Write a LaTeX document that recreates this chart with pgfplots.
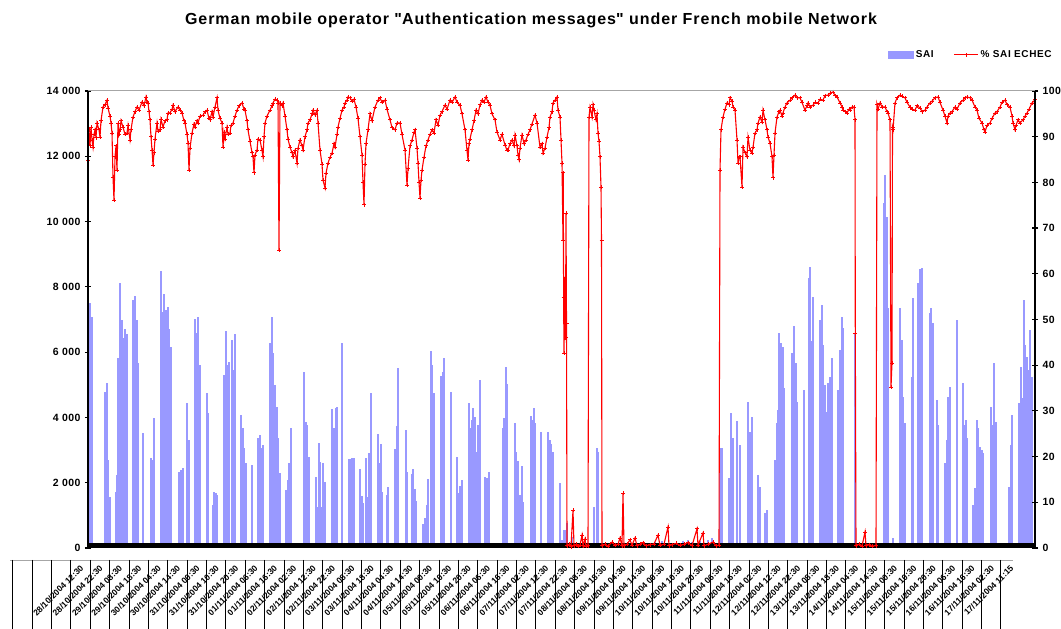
\documentclass[border=0pt]{standalone}
\usepackage{fontspec}
\setmainfont{Liberation Sans}
\usepackage{pgfplots}
\pgfplotsset{compat=1.18}
\definecolor{sai}{RGB}{153,153,255}
\definecolor{ech}{RGB}{255,0,0}
\begin{document}
\begin{tikzpicture}[x=1pt,y=1pt]
\useasboundingbox (0,0) rectangle (1061,629);
\begin{axis}[
  at={(88pt,81pt)}, anchor=south west,
  width=947pt, height=457pt, scale only axis,
  xmin=88, xmax=1035, ymin=0, ymax=14000,
  scaled y ticks=false,
  axis line style={draw=none},
  xtick=\empty, ytick pos=left,
  ytick={0,2000,4000,6000,8000,10000,12000,14000},
  yticklabels={0,2 000,4 000,6 000,8 000,10 000,12 000,14 000},
  yticklabel style={font=\bfseries\fontsize{10.5}{11}\selectfont\addfontfeatures{LetterSpace=4}, xshift=-1pt},
  major tick length=6pt, tick align=center,
  tick style={black, line width=1.2pt},
  legend style={at={(1.023,1.079)}, anchor=east, draw=none, fill=none,
     font=\bfseries\fontsize{10}{11}\selectfont\addfontfeatures{LetterSpace=6}, legend columns=2,
     /tikz/every even column/.append style={column sep=18pt}},
]
\addlegendimage{legend image code/.code={\fill[sai] (0pt,-3.5pt) rectangle (25pt,3.5pt);}}
\addlegendentry{SAI}
\addlegendimage{legend image code/.code={\draw[ech, line width=1pt] (0pt,0pt) -- (24pt,0pt); \draw[ech, line width=0.8pt] (12pt,-2pt)--(12pt,2pt);}}
\addlegendentry{\% SAI ECHEC}
\addplot[ycomb, draw=sai, line width=1.55pt, forget plot] coordinates {
(88,4200)(90,7500)(92,7080)(105,4780)(107,5050)(108,2700)(110,1560)(116,1720)(117,2230)(118,5820)(120,8120)(122,6980)(123,6430)(125,6700)(127,6550)
(133,7600)(135,7720)(137,6980)(138,5670)(143,3520)(151,2760)(152,2700)(154,3980)(161,8480)(163,7230)(164,7780)(166,7290)(168,7380)(169,6700)(171,6160)
(179,2330)(181,2390)(183,2450)(187,4440)(189,3310)(195,7010)(197,6590)(198,7080)(200,5610)(207,4750)(208,4140)(213,1320)(214,1720)(216,1680)(217,1620)
(224,5300)(226,6650)(228,5610)(229,5700)(232,6370)(233,5450)(235,6550)(241,4070)(243,3680)(244,3060)(246,2600)(252,2540)(258,3370)(260,3460)(262,3060)(263,3150)
(270,6280)(272,7080)(273,5970)(275,4990)(277,4320)(278,3370)(280,2300)(286,1780)(288,2080)(289,2600)(291,3680)(304,5390)(306,3860)(307,3770)(309,2790)
(316,2170)(317,1260)(319,3220)(320,2630)(322,1260)(323,2600)(325,2020)(332,4260)(334,3680)(336,4290)(337,4320)(342,6280)(349,2730)(350,2730)(352,2760)(354,2760)
(360,2420)(362,1590)(363,1380)(366,2760)(368,1560)(369,2910)(371,4750)(378,3490)(379,2600)(381,3190)(382,1720)(387,1620)(388,1870)(395,3030)(397,3740)(398,5510)
(406,3610)(407,2330)(412,2270)(413,2420)(415,1810)(416,1440)(423,730)(425,920)(427,1320)(428,2110)(431,6030)(432,5610)(434,4750)(441,5270)(443,5390)(444,5820)
(451,4780)(457,2790)(459,1680)(460,1900)(462,2080)(469,4440)(471,3680)(472,3920)(473,4290)(475,4010)(476,2940)(478,3770)(480,5150)(485,2170)(487,2140)(489,2330)
(503,3680)(504,3980)(506,5540)(507,5020)(515,3830)(516,2940)(518,2660)(520,1620)(522,2510)(523,1410)(531,4040)(532,3920)(534,4290)(535,3830)(541,3550)
(548,3550)(550,3310)(551,3190)(553,2940)(560,1990)(562,250)(564,550)(565,550)(567,770)(572,340)(576,150)(580,120)(594,1260)(597,3060)(598,2940)
(607,150)(611,120)(640,100)(655,180)(662,200)(675,150)(683,220)(688,250)(692,180)(700,200)(708,260)(712,300)(716,150)
(720,3060)(722,3060)(729,2140)(731,4140)(733,3370)(737,3900)(740,3150)(748,4470)(750,3550)(752,4010)(758,2230)(760,1870)(765,1070)(767,1160)
(775,2700)(777,3830)(778,4230)(779,6590)(781,6280)(783,6160)(784,4900)(792,5970)(794,6800)(796,5670)(797,4470)(804,4840)(809,8270)(810,8610)(812,6340)(813,7690)
(820,6980)(822,7440)(823,6220)(825,4990)(827,4170)(828,5050)(830,5240)(832,5820)(838,4840)(840,6060)(842,7080)(843,6740)(855,6550)(862,150)
(884,10570)(885,11420)(887,10140)(888,7350)(893,300)(900,7350)(902,6370)(903,4630)(905,3830)(912,5240)(913,7660)(918,8120)(919,6770)(920,8550)(922,8580)
(930,7200)(931,7350)(933,6890)(937,4530)(938,3770)(945,2600)(947,3310)(948,4630)(950,4930)(957,6980)(963,5050)(964,3770)(966,3920)(967,3370)
(973,1320)(975,1840)(977,3920)(978,3680)(980,3090)(982,3000)(983,2910)(991,4320)(992,3770)(994,5670)(996,3860)
(1009,1870)(1011,3150)(1012,4070)(1019,4440)(1021,5540)(1022,4600)(1024,7600)(1025,6220)(1027,5850)(1028,5450)(1030,6680)(1032,5240)
};
\draw[black, line width=5pt] ([yshift=2.5pt]axis cs:88,0) -- ([yshift=2.5pt]axis cs:1035,0);
\end{axis}
\begin{axis}[
  at={(88pt,81pt)}, anchor=south west,
  width=947pt, height=457pt, scale only axis,
  xmin=88, xmax=1035, ymin=0, ymax=100,
  axis line style={draw=none},
  xtick=\empty, ytick pos=right, yticklabel pos=right,
  ytick={0,10,...,100},
  yticklabel style={font=\bfseries\fontsize{10.5}{11}\selectfont\addfontfeatures{LetterSpace=4}, xshift=1pt},
  /pgf/number format/assume math mode=true,
  major tick length=6pt, tick align=center,
  tick style={black, line width=1.2pt},
]
\addplot[ech, line width=1.1pt, mark=+, mark size=2pt, mark options={line width=0.7pt}] coordinates {
(88,84.9)(89,91.5)(90,88.0)(91,92.1)(92,89.3)(93,87.7)(94,90.5)(95,91.5)(96,89.8)(97,93.0)(99,91.5)(100,89.9)(101,93.5)(103,96.5)(105,97.0)(107,98.0)(108,96.3)
(110,94.5)(111,93.0)(112,90.8)(113,81.2)(114,76.1)(115,85.6)(116,88.0)(117,82.7)(118,93.0)(119,90.5)(120,91.5)(121,93.5)(123,92.1)(125,90.5)(127,90.8)(128,92.5)
(130,89.3)(131,91.5)(133,94.3)(135,95.5)(137,96.5)(139,95.8)(142,97.6)(144,96.8)(146,98.7)(147,97.5)(148,97.4)(149,95.5)(150,93.7)(151,90.0)(152,87.1)(153,83.8)
(154,86.5)(155,89.5)(157,93.0)(158,91.2)(160,91.5)(161,93.8)(163,92.1)(165,93.5)(167,93.7)(168,95.2)(170,95.2)(172,96.0)(173,96.9)(175,95.5)(178,96.5)(180,95.8)
(182,95.2)(184,93.5)(185,93.0)(187,90.5)(188,88.6)(189,82.7)(190,87.5)(192,90.8)(194,92.8)(195,92.1)(197,93.5)(198,93.0)(200,94.5)(203,94.7)(205,95.5)(207,95.8)
(209,94.0)(210,93.7)(212,95.5)(213,94.3)(215,96.5)(217,98.5)(218,95.8)(220,94.0)(222,93.0)(223,87.7)(224,91.0)(225,89.5)(227,92.1)(228,90.5)(230,90.8)(231,92.5)
(233,93.0)(235,94.5)(237,95.8)(239,96.8)(242,97.4)(244,96.0)(245,95.8)(247,93.5)(248,91.5)(250,89.0)(252,86.5)(253,85.6)(254,82.1)(255,86.0)(257,87.1)(258,89.5)
(260,89.3)(262,87.0)(263,85.6)(264,90.0)(265,93.0)(267,94.5)(270,95.8)(272,96.8)(273,97.4)(275,98.2)(277,98.0)(278,97.4)(279,65.2)(280,97.4)(282,96.8)(283,97.4)
(285,94.5)(287,91.5)(288,89.5)(290,87.7)(292,86.5)(293,85.6)(295,87.0)(297,84.2)(298,87.5)(300,89.3)(302,88.0)(303,87.1)(305,90.0)(307,91.5)(308,93.0)(310,93.7)
(312,95.0)(313,95.8)(315,94.8)(317,95.8)(318,93.0)(320,87.1)(322,84.0)(323,80.5)(325,78.8)(326,82.0)(328,84.2)(330,85.5)(332,86.4)(334,88.5)(335,87.7)(337,90.5)
(338,92.1)(340,94.0)(342,95.8)(344,96.5)(345,97.4)(347,98.0)(348,98.7)(350,98.5)(352,97.8)(354,98.2)(356,96.5)(358,94.0)(360,90.0)(362,86.0)(363,80.0)(364,75.1)
(365,84.0)(366,88.5)(368,91.5)(370,95.0)(372,93.5)(375,96.5)(378,98.0)(380,98.5)(382,97.5)(385,98.0)(387,96.0)(390,93.7)(392,92.0)(395,91.5)(397,93.0)(400,93.0)
(402,90.5)(405,87.1)(407,79.4)(408,83.0)(410,88.0)(412,89.3)(414,91.0)(415,91.5)(417,87.5)(418,84.2)(419,80.0)(420,76.6)(421,80.5)(422,82.7)(424,85.5)(426,88.0)
(428,89.3)(430,90.5)(432,91.5)(434,90.8)(436,93.7)(438,92.5)(440,94.7)(442,95.5)(445,96.9)(447,96.0)(450,98.0)(452,97.5)(455,98.7)(457,97.5)(460,96.9)(462,95.0)
(465,91.5)(467,87.0)(468,84.9)(469,88.5)(470,89.5)(472,91.5)(474,93.5)(476,95.8)(478,95.0)(480,97.0)(482,98.0)(484,97.5)(486,98.7)(488,97.5)(490,96.9)(492,95.0)
(495,93.7)(497,91.0)(500,89.3)(502,90.5)(505,88.2)(507,87.0)(508,87.1)(510,88.5)(512,89.3)(514,88.0)(515,90.4)(517,88.0)(518,86.0)(519,85.0)(520,87.5)(522,90.4)
(524,88.5)(526,89.3)(528,90.5)(530,91.5)(532,92.8)(535,94.7)(537,93.0)(540,87.7)(542,88.5)(543,86.4)(545,87.5)(547,89.9)(549,92.0)(550,94.3)(552,95.5)(553,97.4)
(555,98.0)(557,98.7)(558,95.8)(560,94.3)(561,89.3)(562,84.2)(563,67.4)(563.3,82.1)(563.6,54.9)(564,42.7)(564.5,49.9)(565,59.3)(565.5,46.0)(566,73.3)(566.5,49.2)
(567,0.5)(569,0.8)(571,0.3)(573,8.3)(574,0.5)(576,0.8)(578,0.4)(580,0.6)(582,2.8)(583,0.5)(585,2.0)(586,0.4)(588,0.5)
(589,94.3)(590,96.5)(592,94.3)(593,97.0)(594,95.8)(596,93.7)(597,95.0)(598,90.8)(599,89.0)(600,85.6)(601,79.0)(601.5,67.4)
(602,0.5)(605,0.8)(608,0.4)(612,1.3)(615,0.6)(618,0.8)(620,2.2)(622,0.5)(623,12.0)(624,0.5)(627,0.8)(630,1.8)(632,0.6)(635,2.2)(637,0.5)(640,0.8)(643,1.2)
(646,0.5)(650,0.7)(654,0.9)(658,2.8)(660,0.6)(664,0.8)(668,4.6)(669,0.5)(672,0.7)(676,1.0)(680,0.6)(684,0.8)(688,1.2)(692,0.5)(697,4.2)(698,0.6)(703,3.3)
(704,0.5)(708,0.8)(713,1.3)(716,0.5)(719,0.6)
(720,82.7)(721,91.5)(723,94.3)(725,96.0)(727,97.4)(729,97.0)(730,98.5)(732,97.8)(733,96.5)(735,95.8)(737,89.3)(738,84.2)(739,85.6)(740,85.6)(742,79.0)(743,87.7)
(745,86.5)(747,85.6)(748,89.9)(750,87.0)(752,86.4)(753,87.7)(755,90.8)(757,91.5)(758,93.0)(760,94.3)(762,93.2)(763,95.8)(765,93.7)(767,91.5)(768,89.9)(770,88.6)
(772,85.6)(773,81.0)(774,86.0)(775,90.8)(777,94.3)(779,95.5)(780,95.8)(782,94.5)(783,95.2)(785,96.5)(787,97.4)(790,98.0)(792,98.5)(795,99.1)(797,98.5)(800,98.5)
(802,97.5)(805,95.8)(807,96.8)(808,97.4)(810,96.5)(813,96.9)(815,97.5)(818,97.4)(820,98.2)(823,98.0)(825,99.0)(828,99.1)(830,99.5)(833,99.8)(835,99.0)(837,98.7)
(840,97.4)(842,96.5)(843,95.8)(845,95.5)(847,95.2)(849,96.0)(850,95.8)(852,96.5)(854,96.5)(855,93.7)(855.3,47.0)
(856,0.5)(859,0.8)(862,0.4)(865,3.5)(866,0.5)(869,0.7)(872,0.4)(876,0.5)
(877,97.0)(878,96.0)(880,97.4)(882,96.5)(885,96.5)(887,95.5)(888,95.2)(890,93.7)(891,35.2)(892,40.5)(892.5,92.0)(893,91.5)(895,97.4)(897,98.5)(900,99.1)(902,98.8)
(905,98.5)(907,97.5)(910,96.5)(912,96.0)(915,95.8)(917,96.8)(920,96.3)(922,95.5)(925,95.8)(927,96.5)(930,97.4)(932,97.8)(935,98.5)(938,98.7)(940,97.5)(943,95.8)
(945,94.5)(947,93.0)(948,94.5)(950,95.2)(952,95.5)(955,96.5)(957,96.0)(960,97.4)(963,98.0)(965,98.5)(967,98.7)(970,98.5)(972,98.0)(975,96.5)(977,95.8)(979,94.0)
(982,93.0)(984,91.5)(985,91.0)(987,92.5)(990,93.0)(992,94.0)(995,95.2)(997,95.5)(1000,96.5)(1002,97.5)(1005,98.0)(1007,97.0)(1010,96.5)(1012,94.5)(1013,93.0)
(1015,91.5)(1016,92.5)(1018,93.7)(1020,93.0)(1023,93.7)(1025,94.5)(1027,95.2)(1029,96.0)(1032,97.4)(1034,97.8)(1035,98.2)
};
\end{axis}
% plot area border and spines
\draw[gray!70, line width=1pt] (88,538) -- (1035,538);
\draw[black, line width=1.3pt] (88,81) -- (88,538);
\draw[black, line width=1.3pt] (1035,81) -- (1035,538);
% title
\node[font=\bfseries\fontsize{16}{18}\selectfont\addfontfeatures{LetterSpace=6}] at (531,609) {German mobile operator \textquotedbl Authentication messages\textquotedbl{} under French mobile Network};
% category label cells
\draw[gray!70, line width=0.9pt] (10,69) -- (1013,69);
\foreach \k in {0,...,51} {\draw[black, line width=0.7pt] ({12.7+19.375*\k},69) -- ({12.7+19.375*\k},0);}
\foreach \lab [count=\i from 0] in {28/10/2004 12:30,28/10/2004 22:30,29/10/2004 08:30,29/10/2004 18:30,30/10/2004 04:30,30/10/2004 14:30,31/10/2004 00:30,31/10/2004 10:30,31/10/2004 20:30,01/11/2004 06:30,01/11/2004 16:30,02/11/2004 02:30,02/11/2004 12:30,02/11/2004 22:30,03/11/2004 08:30,03/11/2004 18:30,04/11/2004 04:30,04/11/2004 14:30,05/11/2004 00:30,05/11/2004 10:30,05/11/2004 20:30,06/11/2004 06:30,06/11/2004 16:30,07/11/2004 02:30,07/11/2004 12:30,07/11/2004 22:30,08/11/2004 08:30,08/11/2004 18:30,09/11/2004 04:30,09/11/2004 14:30,10/11/2004 00:30,10/11/2004 10:30,10/11/2004 20:30,11/11/2004 06:30,11/11/2004 16:30,12/11/2004 02:30,12/11/2004 12:30,12/11/2004 22:30,13/11/2004 08:30,13/11/2004 18:30,14/11/2004 04:30,14/11/2004 14:30,15/11/2004 00:30,15/11/2004 10:30,15/11/2004 20:30,16/11/2004 06:30,16/11/2004 16:30,17/11/2004 02:30,17/11/2004 11:15} {
  \node[rotate=45, anchor=east, inner sep=0pt, font=\bfseries\fontsize{8.5}{9}\selectfont] at ({82+19.375*\i},62) {\lab};
}
\end{tikzpicture}
\end{document}
